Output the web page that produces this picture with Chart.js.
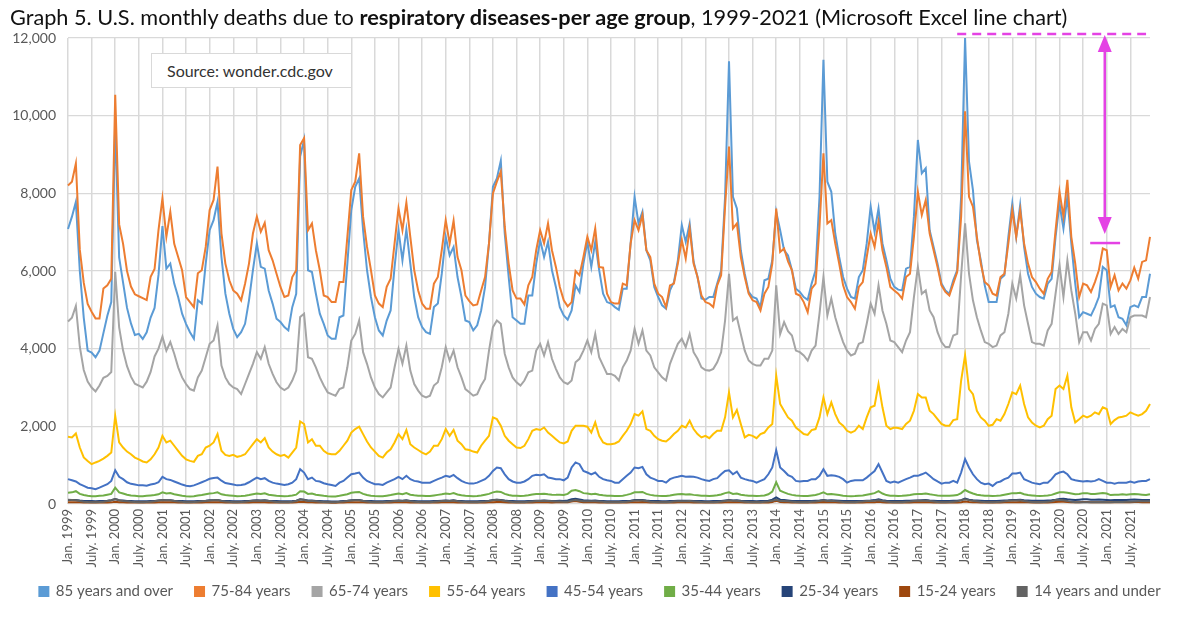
<!DOCTYPE html>
<html>
<head>
<meta charset="utf-8">
<script src="https://cdn.jsdelivr.net/npm/chart.js@4.4.0/dist/chart.umd.min.js"></script>
<style>
html,body{margin:0;padding:0;background:#fff;}
#wrap{position:relative;width:1200px;height:633px;overflow:hidden;}
#chart{position:absolute;left:0;top:0;}
#title{position:absolute;left:10px;top:4px;font-family:Lato,"Open Sans",sans-serif;font-size:21.7px;color:#111;white-space:nowrap;z-index:2;}
#source{position:absolute;left:151px;top:53px;width:201px;height:35px;box-sizing:border-box;border:1px solid #d9d9d9;background:#fff;font-family:Lato,"Open Sans",sans-serif;font-size:16px;color:#333;line-height:33px;padding-left:15px;z-index:2;}
</style>
</head>
<body>
<div id="wrap">
<canvas id="chart" width="1200" height="633"></canvas>
<div id="title">Graph 5. U.S. monthly deaths due to <b>respiratory diseases-per age group</b>, 1999-2021 (Microsoft Excel line chart)</div>
<div id="source">Source: wonder.cdc.gov</div>
</div>
<script>
// ---------- DATA ----------
const years = [1999,2000,2001,2002,2003,2004,2005,2006,2007,2008,2009,2010,2011,2012,2013,2014,2015,2016,2017,2018,2019,2020,2021];
const monthAbbr = ['Jan.','Feb.','Mar.','Apr.','May.','June.','July.','Aug.','Sep.','Oct.','Nov.','Dec.'];
const seriesNames = ['85 years and over','75-84 years','65-74 years','55-64 years','45-54 years','35-44 years','25-34 years','15-24 years','14 years and under'];
const yTickValues = [0,2000,4000,6000,8000,10000,12000];

const s85plus = [
7080,7400,7780,6000,4800,3950,3900,3780,3950,4400,4850,5200,
9800,6350,5700,5050,4650,4350,4380,4250,4420,4800,5050,5900,
7155,6060,6190,5675,5330,4900,4640,4425,4255,5245,5160,6190,
7050,7310,7780,6360,5415,4900,4510,4295,4425,4640,5245,6020,
6710,6105,6060,5500,5160,4770,4685,4555,4470,5070,5415,8945,
9375,6020,5975,5415,4900,4640,4340,4255,4255,4810,4855,6190,
7570,8170,8385,7050,6020,5330,4810,4470,4340,4725,4985,6105,
7050,6275,7070,6190,5330,4810,4555,4425,4380,5070,5160,5930,
6880,6405,6620,5845,5330,4725,4685,4470,4600,4985,5590,6710,
8170,8385,8840,6965,5845,4810,4725,4640,4640,5370,5370,6190,
6795,6360,6750,6020,5590,5070,4855,4745,4985,5630,5460,6190,
6750,6105,6750,6020,5415,5200,5160,5070,5000,5545,5545,6710,
7910,7225,7525,6535,6275,5590,5330,5115,5030,5500,5715,6275,
7180,6750,7225,6235,5845,5290,5260,5330,5330,5675,6020,7910,
11400,7910,7610,6535,5930,5460,5330,5290,5070,5760,5800,6275,
7525,7050,6535,6400,6020,5545,5460,5330,5260,5675,6020,7910,
11440,8300,8040,6965,6360,5845,5545,5330,5290,5845,6020,6710,
7655,7010,7610,6710,6275,5800,5590,5520,5500,6060,6105,7400,
9375,8515,8645,7050,6620,6190,5675,5500,5415,5760,6020,7910,
12000,8815,8085,6795,6275,5630,5200,5200,5200,5800,5890,6880,
7740,6880,7700,6620,5930,5590,5415,5330,5290,5675,5800,6880,
7740,7095,7910,6710,5675,4810,4940,4900,4855,5070,5330,6105,
6020,5070,5115,4810,4770,4600,5070,5115,5070,5330,5330,5930
];
const s75to84 = [
8200,8300,8770,6550,5700,5150,4950,4780,4780,5550,5630,5800,
10540,7200,6700,6000,5600,5400,5350,5300,5250,5850,6050,7050,
7870,6880,7525,6700,6360,6020,5330,5200,5070,5940,6020,6620,
7570,7830,8690,6970,6190,5760,5500,5415,5245,5670,6190,6965,
7400,7010,7240,6535,6275,5930,5590,5330,5370,5845,6020,9245,
9420,7050,7225,6535,6020,5370,5330,5200,5200,5715,5715,6880,
8085,8300,9030,7400,6620,6020,5370,5160,5070,5590,5800,6710,
7610,7050,7760,6880,6020,5500,5160,5030,5030,5675,5845,6535,
7310,6710,7295,6360,6020,5370,5225,5115,5140,5500,5845,6710,
8000,8300,8560,7140,6190,5500,5290,5290,5140,5630,5845,6535,
7050,6710,7225,6535,6105,5590,5245,5090,5200,6000,5890,6360,
6880,6535,7095,6105,6085,5415,5200,5160,5160,5675,5630,6710,
7310,7050,7440,6535,6360,5675,5415,5330,5070,5630,5675,6190,
6795,6320,7095,6190,5845,5370,5200,5160,5070,5630,5890,7655,
9205,7095,7225,6360,5845,5415,5245,5200,4985,5415,5590,6190,
7610,6490,6580,6250,6020,5415,5370,5200,4940,5545,5675,7140,
9030,7225,7310,6710,6190,5630,5330,5200,5030,5590,5715,6360,
6965,6620,7270,6535,6105,5590,5500,5415,5290,5845,5930,6880,
8040,7440,7825,6965,6535,6105,5630,5460,5370,5675,5975,7400,
10110,7910,7655,6880,6190,5715,5630,5415,5370,5845,5930,6710,
7570,6880,7570,6710,6190,5845,5715,5545,5415,5800,5975,7050,
8040,7400,8345,6880,6190,5330,5675,5630,5460,5715,6020,6580,
6535,5590,5890,5500,5675,5545,5760,6085,5800,6235,6275,6880
];
const s65to74 = [
4700,4800,5100,4050,3450,3150,3000,2900,3050,3250,3300,3400,
5980,4550,3950,3550,3280,3100,3050,3000,3150,3400,3800,4000,
4310,3950,4170,3870,3520,3260,3090,2960,2920,3260,3435,3780,
4125,4210,4600,3565,3260,3090,3000,2960,2830,3090,3350,3610,
3910,3740,4040,3610,3350,3135,3000,2935,3000,3180,3435,4815,
4900,3780,3740,3520,3260,3050,2875,2830,2790,2960,3000,3520,
4210,4380,4725,3910,3610,3260,3000,2830,2745,2875,3000,3520,
3995,3610,4080,3435,3090,2920,2790,2745,2790,3050,3135,3520,
4040,3695,3950,3520,3260,2960,2875,2790,2830,3050,3220,3950,
4555,4725,4640,3870,3520,3260,3135,3050,3180,3390,3435,3950,
4125,3825,4170,3740,3480,3260,3135,3090,3180,3650,3740,3950,
4210,3910,4380,3780,3565,3350,3350,3300,3180,3520,3695,3950,
4510,4125,4470,3950,3825,3520,3390,3260,3180,3610,3870,4125,
4255,4040,4380,3910,3740,3520,3450,3435,3480,3650,3910,4725,
5930,4725,4810,4380,3950,3695,3610,3565,3565,3740,3740,3950,
5630,4380,4685,4450,4340,3950,3910,3825,3695,3950,4080,4900,
5845,4855,5290,4810,4470,4170,3950,3825,3870,4125,4170,4640,
5160,4900,5630,4985,4640,4210,4170,4040,3910,4210,4425,5330,
6105,5415,5500,4985,4810,4425,4170,4040,4040,4340,4380,5890,
7225,5930,5245,4810,4470,4170,4125,4040,4080,4340,4425,4900,
5675,5290,5890,5115,4640,4170,4125,4125,4080,4470,4640,5415,
6150,5330,6275,5500,4900,4170,4425,4425,4210,4510,4640,5160,
5115,4380,4555,4380,4510,4425,4810,4855,4855,4855,4810,5330
];
const s55to64 = [
1730,1713,1815,1455,1200,1110,1025,1070,1110,1170,1240,1325,
2270,1585,1455,1350,1280,1195,1150,1095,1070,1150,1280,1455,
1755,1585,1630,1500,1370,1240,1150,1110,1085,1240,1280,1455,
1500,1585,1800,1370,1265,1240,1265,1215,1240,1280,1410,1540,
1670,1585,1695,1455,1350,1280,1240,1265,1195,1325,1455,2125,
2060,1585,1670,1500,1500,1370,1300,1280,1280,1370,1500,1630,
1840,1930,1990,1800,1610,1455,1350,1240,1195,1325,1410,1585,
1800,1670,1905,1540,1455,1390,1325,1280,1350,1500,1500,1670,
1930,1755,1905,1630,1540,1410,1390,1350,1325,1500,1630,1755,
2230,2185,2015,1755,1630,1540,1455,1440,1500,1670,1885,1930,
1905,1970,1840,1755,1670,1585,1560,1610,1885,2015,2015,2015,
1990,1840,2100,1755,1585,1540,1540,1560,1610,1755,1885,2060,
2315,2275,2385,1930,1885,1755,1670,1630,1610,1695,1800,1885,
2015,1970,2145,1930,1800,1715,1755,1695,1800,1885,1885,2230,
2875,2230,2420,2060,1715,1780,1755,1695,1800,1840,1970,2060,
3305,2575,2400,2230,2145,1970,1885,1800,1780,1905,1930,2230,
2745,2315,2615,2315,2100,2015,1885,1840,1885,2015,1930,2230,
2490,2530,3090,2490,2015,1930,1970,1955,1930,2060,2145,2400,
2830,2745,2745,2400,2315,2185,2060,2015,2015,2160,2185,3180,
3825,2960,2830,2400,2230,2145,2015,2040,2185,2145,2315,2575,
2875,2830,3050,2575,2230,2100,2015,1970,2015,2185,2275,2960,
3050,2960,3305,2490,2100,2185,2275,2230,2275,2360,2315,2490,
2445,2060,2160,2230,2245,2275,2360,2315,2275,2315,2400,2575
];
const s45to54 = [
640,610,580,510,465,420,405,380,420,465,510,595,
870,700,640,560,520,500,480,480,470,500,520,560,
700,640,620,580,540,500,470,460,480,520,560,600,
650,670,680,600,540,520,500,480,490,510,560,620,
680,640,665,595,550,525,510,490,510,550,640,895,
810,640,680,595,580,535,510,490,465,550,595,680,
765,785,810,680,595,550,510,510,490,550,595,640,
700,640,725,640,595,580,550,550,550,595,640,680,
725,700,750,665,595,550,525,525,550,595,640,725,
850,940,920,765,640,580,550,550,580,640,725,750,
740,765,680,665,640,640,610,680,940,1070,1025,850,
810,765,810,700,640,610,595,550,550,640,725,810,
940,920,955,765,680,640,595,595,550,640,680,700,
725,700,710,700,680,640,610,595,640,665,765,850,
870,765,835,680,640,610,595,550,595,640,765,940,
1385,940,850,745,700,595,580,595,595,640,640,725,
895,725,740,725,700,640,550,595,610,610,610,680,
765,850,1025,810,595,550,580,550,595,640,680,725,
725,765,810,725,640,580,525,550,550,595,550,810,
1155,940,765,640,550,510,525,465,550,580,640,680,
785,785,810,640,595,550,525,510,550,550,640,765,
810,835,765,640,610,595,580,595,580,595,640,595,
550,550,525,550,550,550,580,550,580,595,595,640
];
const s35to44 = [
290,300,330,260,230,210,200,200,210,220,240,260,
420,300,270,240,220,210,200,200,210,220,230,250,
300,270,280,250,230,210,200,195,200,220,230,250,
270,280,300,250,230,220,210,200,205,215,230,250,
270,260,275,240,225,210,205,200,205,220,240,330,
320,260,270,240,225,210,200,195,195,210,230,250,
290,300,310,260,230,215,205,200,200,215,230,250,
270,250,280,240,225,215,210,205,205,220,235,250,
270,255,280,245,225,210,205,200,205,220,240,260,
300,320,310,260,230,215,210,205,210,225,245,260,
260,265,250,240,235,235,230,260,340,360,330,280,
270,250,265,240,225,215,210,205,205,215,235,260,
300,300,310,260,235,220,210,205,205,220,240,250,
255,245,250,235,225,215,210,205,215,225,245,280,
300,260,270,240,225,215,210,205,210,220,250,320,
560,340,300,260,235,220,210,205,205,220,230,260,
300,250,260,245,230,215,205,200,205,215,220,240,
260,280,330,270,230,215,210,205,210,220,230,250,
260,260,270,250,235,220,210,210,210,220,230,280,
360,310,270,240,225,215,210,205,210,220,240,260,
280,280,290,250,230,220,210,205,210,220,235,270,
300,300,290,270,250,260,280,280,260,260,270,280,
270,230,240,240,250,240,250,260,250,240,230,250
];
const s25to34 = [
100,100,105,90,80,75,75,70,75,80,85,95,
130,95,90,80,75,70,70,70,70,75,80,90,
100,95,95,85,80,75,70,70,70,75,80,85,
95,95,100,85,80,75,70,70,70,75,80,90,
95,90,95,85,80,75,70,70,70,75,85,120,
110,90,90,80,75,70,70,65,65,70,80,85,
95,100,100,85,80,75,70,70,70,75,80,85,
90,85,95,80,75,70,70,70,70,75,80,85,
90,85,95,80,75,70,70,70,70,75,80,85,
100,110,105,90,80,75,70,70,70,75,80,85,
85,90,85,80,80,85,80,90,120,135,115,95,
90,85,90,80,75,70,70,70,70,75,80,85,
100,100,105,90,80,75,75,70,70,75,80,85,
85,85,85,80,75,75,70,70,75,75,80,90,
100,90,95,85,80,75,75,70,75,80,85,110,
170,110,100,90,80,75,75,75,75,80,85,90,
105,90,95,90,85,80,75,75,75,80,80,85,
90,100,120,95,85,80,80,80,80,85,85,90,
90,95,100,90,85,80,80,80,80,85,85,100,
140,110,95,90,85,80,80,80,80,85,90,95,
105,105,110,95,90,85,85,85,85,90,95,110,
130,135,120,110,100,110,120,120,110,110,115,110,
105,95,100,100,105,100,110,115,110,105,100,105
];
const s15to24 = [
45,45,48,42,40,38,38,36,38,40,40,42,
55,45,42,40,38,37,36,36,37,38,40,42,
48,44,45,42,40,38,37,36,37,38,40,42,
44,45,47,42,40,38,37,36,37,39,40,43,
45,43,45,41,39,38,37,36,37,39,42,55,
52,43,44,41,39,37,36,35,35,37,40,42,
45,47,48,43,40,38,37,36,36,38,40,42,
44,42,45,41,39,37,36,36,36,38,40,42,
44,42,45,41,39,37,36,36,36,38,40,43,
48,52,50,44,40,38,37,36,37,38,40,42,
43,44,42,41,42,45,42,48,65,75,60,48,
45,42,44,40,38,37,36,36,36,38,40,42,
48,48,50,44,40,38,37,36,36,38,40,42,
42,42,42,40,38,37,36,36,37,38,40,44,
48,44,46,42,40,38,37,36,37,39,41,52,
80,52,48,43,40,38,37,37,37,39,41,43,
50,43,45,43,41,39,37,37,37,39,40,42,
44,48,56,46,41,39,38,38,38,40,41,43,
44,45,47,43,41,39,38,38,38,40,41,47,
62,50,45,42,40,39,38,38,38,40,42,44,
48,48,50,44,42,40,39,39,39,41,43,50,
56,58,52,48,45,48,52,52,48,47,48,47,
45,42,44,44,46,45,48,52,50,47,45,46
];
const s14under = [
110,105,95,75,60,50,45,45,50,60,75,95,
130,95,80,70,60,50,45,45,50,60,70,90,
100,95,95,80,65,55,48,46,50,58,68,80,
90,95,100,80,65,55,48,46,50,58,68,82,
90,85,90,75,62,52,46,45,48,58,75,120,
105,80,80,70,60,50,45,44,46,55,65,78,
92,98,95,80,65,52,46,45,48,56,66,78,
85,80,88,72,60,50,45,44,47,55,64,75,
85,80,88,72,60,50,45,44,47,55,65,80,
100,110,100,80,62,52,46,45,48,56,66,78,
80,85,78,72,66,62,55,60,85,100,85,70,
72,68,72,64,56,48,44,43,46,52,60,72,
88,90,92,75,60,50,45,44,46,54,62,72,
74,72,75,66,58,50,45,44,47,54,62,80,
95,82,85,72,60,50,46,45,48,56,66,85,
110,80,78,70,60,50,46,45,48,55,64,80,
95,80,84,74,62,52,46,45,48,56,64,75,
80,84,95,78,62,52,46,45,48,56,66,80,
88,86,90,76,64,54,48,46,50,58,68,95,
120,100,85,72,60,52,47,46,50,58,70,85,
92,92,96,78,64,54,48,46,50,60,72,100,
105,98,80,55,45,42,42,42,44,46,48,50,
48,45,50,52,54,55,58,66,70,72,68,70
];

// annotation (data units)
const annotDash = {fromIndex: 226, toIndex: 274, level: 12100};
const annotArrow = {index: 263.5, top: 12080, bottom: 6950};
const annotBar = {fromIndex: 259.8, toIndex: 267.4, level: 6720};

// ---------- BUILD ----------
const categories = [];
years.forEach(y => monthAbbr.forEach(m => categories.push(m + ' ' + y)));
const seriesValues = [s85plus, s75to84, s65to74, s55to64, s45to54, s35to44, s25to34, s15to24, s14under];
const seriesColors = ['#5B9BD5','#ED7D31','#A5A5A5','#FFC000','#4472C4','#70AD47','#264478','#9E480E','#636363'];

const datasets = seriesValues.map((vals, k) => ({
  label: seriesNames[k],
  data: vals,
  borderColor: seriesColors[k],
  backgroundColor: seriesColors[k],
  borderWidth: 2,
  pointRadius: 0,
  pointHoverRadius: 0,
  tension: 0,
  fill: false,
  order: seriesValues.length - k
}));

const MAG = '#E442E4';
const annotPlugin = {
  id: 'annot',
  beforeDraw(chart) {
    // let rotated x labels overflow into the legend's top padding (no clipping)
    chart.scales.x._computeLabelArea = function () { return undefined; };
  },
  afterDraw(chart) {
    const {ctx, scales: {x, y}} = chart;
    ctx.save();
    ctx.strokeStyle = MAG; ctx.fillStyle = MAG;
    ctx.lineWidth = 2.5;
    ctx.setLineDash([9, 6]);
    ctx.beginPath();
    ctx.moveTo(x.getPixelForValue(annotDash.fromIndex), y.getPixelForValue(annotDash.level));
    ctx.lineTo(x.getPixelForValue(annotDash.toIndex), y.getPixelForValue(annotDash.level));
    ctx.stroke();
    ctx.setLineDash([]);
    const ax = x.getPixelForValue(annotArrow.index);
    const yt = y.getPixelForValue(annotArrow.top);
    const yb = y.getPixelForValue(annotArrow.bottom);
    ctx.beginPath(); ctx.moveTo(ax, yt + 12); ctx.lineTo(ax, yb - 12); ctx.stroke();
    ctx.beginPath(); ctx.moveTo(ax, yt); ctx.lineTo(ax - 7, yt + 17); ctx.lineTo(ax + 7, yt + 17); ctx.closePath(); ctx.fill();
    ctx.beginPath(); ctx.moveTo(ax, yb); ctx.lineTo(ax - 7, yb - 17); ctx.lineTo(ax + 7, yb - 17); ctx.closePath(); ctx.fill();
    ctx.beginPath();
    ctx.moveTo(x.getPixelForValue(annotBar.fromIndex), y.getPixelForValue(annotBar.level));
    ctx.lineTo(x.getPixelForValue(annotBar.toIndex), y.getPixelForValue(annotBar.level));
    ctx.stroke();
    ctx.restore();
  }
};

new Chart(document.getElementById('chart'), {
  type: 'line',
  data: {labels: categories, datasets},
  options: {
    responsive: false,
    animation: false,
    devicePixelRatio: 1,
    layout: {padding: {left: 0, right: 0, top: 38, bottom: 24}},
    plugins: {
      title: {display: false},
      tooltip: {enabled: false},
      legend: {
        position: 'bottom',
        labels: {
          font: {family: 'Lato', size: 15},
          color: '#595959',
          boxWidth: 9, boxHeight: 9,
          padding: 22,
          sort: (a, b) => a.datasetIndex - b.datasetIndex
        }
      }
    },
    scales: {
      x: {
        grid: {color: '#D9D9D9', lineWidth: 1.5, drawTicks: false},
        border: {display: false},
        ticks: {
          autoSkip: false, maxRotation: 90, minRotation: 90, padding: 5,
          font: {family: 'Lato', size: 13}, color: '#595959',
          callback: (v, i) => (i % 6 === 0 ? categories[i] : null)
        },
        afterFit: s => { s.height = 58; }
      },
      y: {
        min: 0, max: 12000,
        afterBuildTicks: s => { s.ticks = yTickValues.map(v => ({value: v})); },
        grid: {color: '#D9D9D9', lineWidth: 1.3, drawTicks: false},
        border: {display: false},
        ticks: {
          padding: 12,
          font: {family: 'Lato', size: 14}, color: '#595959',
          callback: v => v.toLocaleString('en-US')
        },
        afterFit: s => { s.width = 68; }
      },
      yRightSpace: {
        position: 'right',
        display: true,
        grid: {display: false, drawTicks: false},
        border: {display: false},
        ticks: {display: false},
        afterFit: s => { s.width = 50; }
      }
    }
  },
  plugins: [annotPlugin]
});
</script>
</body>
</html>
